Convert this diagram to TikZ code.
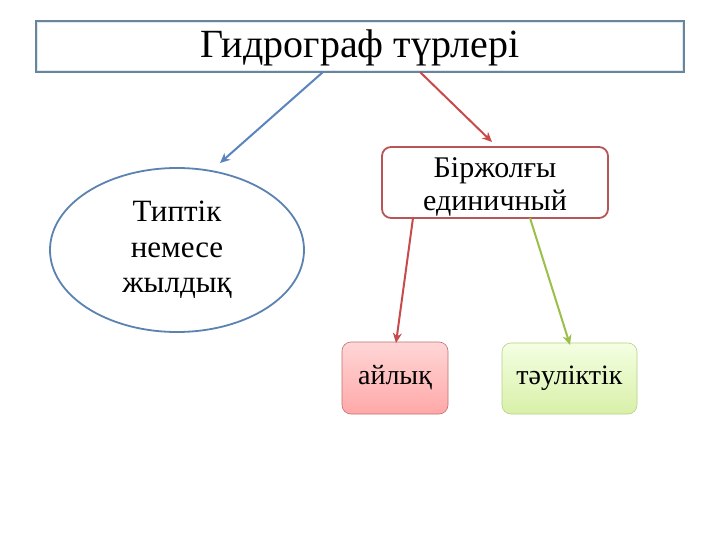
\documentclass[tikz,border=0pt]{standalone}
\usepackage{fontspec}
\setmainfont{Liberation Serif}
\usetikzlibrary{shapes.geometric,arrows.meta}
\definecolor{titleline}{HTML}{6A8499}
\definecolor{titleinner}{HTML}{D8EAF4}
\definecolor{ellline}{HTML}{5B82B0}
\definecolor{bluearr}{HTML}{5A84BE}
\definecolor{redline}{HTML}{B85556}
\definecolor{redarr}{HTML}{C84A4A}
\definecolor{greenarr}{HTML}{9CBF4A}
\definecolor{pinkA}{HTML}{FFD6D6}
\definecolor{pinkB}{HTML}{FFA8A8}
\definecolor{pinkline}{HTML}{C07070}
\definecolor{grnA}{HTML}{F4FFE2}
\definecolor{grnB}{HTML}{D8F0A8}
\definecolor{grnline}{HTML}{B4D08A}
\tikzset{
  x=1pt,y=-1pt,
  conn/.style={line width=2pt,-{Stealth[length=10pt,width=9pt]}},
  txt/.style={font=\fontsize{31}{35.5}\selectfont,align=center,text=black},
  boxtxt/.style={font=\fontsize{28}{33}\selectfont,align=center,text=black}
}
\begin{document}
\begin{tikzpicture}
\useasboundingbox (0,0) rectangle (720,540);
\fill[white] (0,0) rectangle (720,540);
% title
\node[draw=titleline,line width=1.8pt,fill=white,minimum width=648pt,minimum height=51pt,inner sep=0pt] (title) at (360,46.5) {};
\draw[titleinner,line width=1.2pt] ([shift={(2.5,2.5)}]title.north west) rectangle ([shift={(-2.5,-2.5)}]title.south east);
\node[font=\fontsize{40}{46}\selectfont,inner sep=0pt] (titletext) at (360,48) {Гидрограф түрлері};
% ellipse
\node[ellipse,draw=ellline,line width=1.8pt,fill=white,minimum width=254pt,minimum height=164pt,inner sep=0pt,txt] (ell) at (177,250) {Типтік\\немесе\\жылдық};
% single box
\node[draw=redline,line width=1.8pt,rounded corners=9pt,fill=white,minimum width=226pt,minimum height=71pt,inner sep=0pt] (single) at (495,182.5) {};
\node[boxtxt,font=\fontsize{30}{33}\selectfont,inner sep=0pt] (singletext) at (495,187) {Біржолғы\\единичный};
% monthly
\node[draw=pinkline,line width=0.6pt,rounded corners=9pt,top color=pinkA,bottom color=pinkB,minimum width=106pt,minimum height=72pt,inner sep=0pt,boxtxt] (month) at (395,378) {айлық};
% daily
\node[draw=grnline,line width=0.6pt,rounded corners=9pt,top color=grnA,bottom color=grnB,minimum width=135pt,minimum height=71pt,inner sep=0pt,boxtxt] (day) at (569.5,378.5) {тәуліктік};
% connectors
\coordinate (t1) at (323,72);
\coordinate (t2) at (420,72);
\coordinate (s1) at (413,218);
\coordinate (s2) at (530,218);
\coordinate (e1) at (220,163);
\coordinate (b1) at (492,142);
\coordinate (m1) at (396,343);
\coordinate (d1) at (570,345);
\draw[conn,bluearr] (t1) -- (e1);
\draw[conn,redarr] (t2) -- (b1);
\draw[conn,redarr] (s1) -- (m1);
\draw[conn,greenarr] (s2) -- (d1);
\end{tikzpicture}
\end{document}
